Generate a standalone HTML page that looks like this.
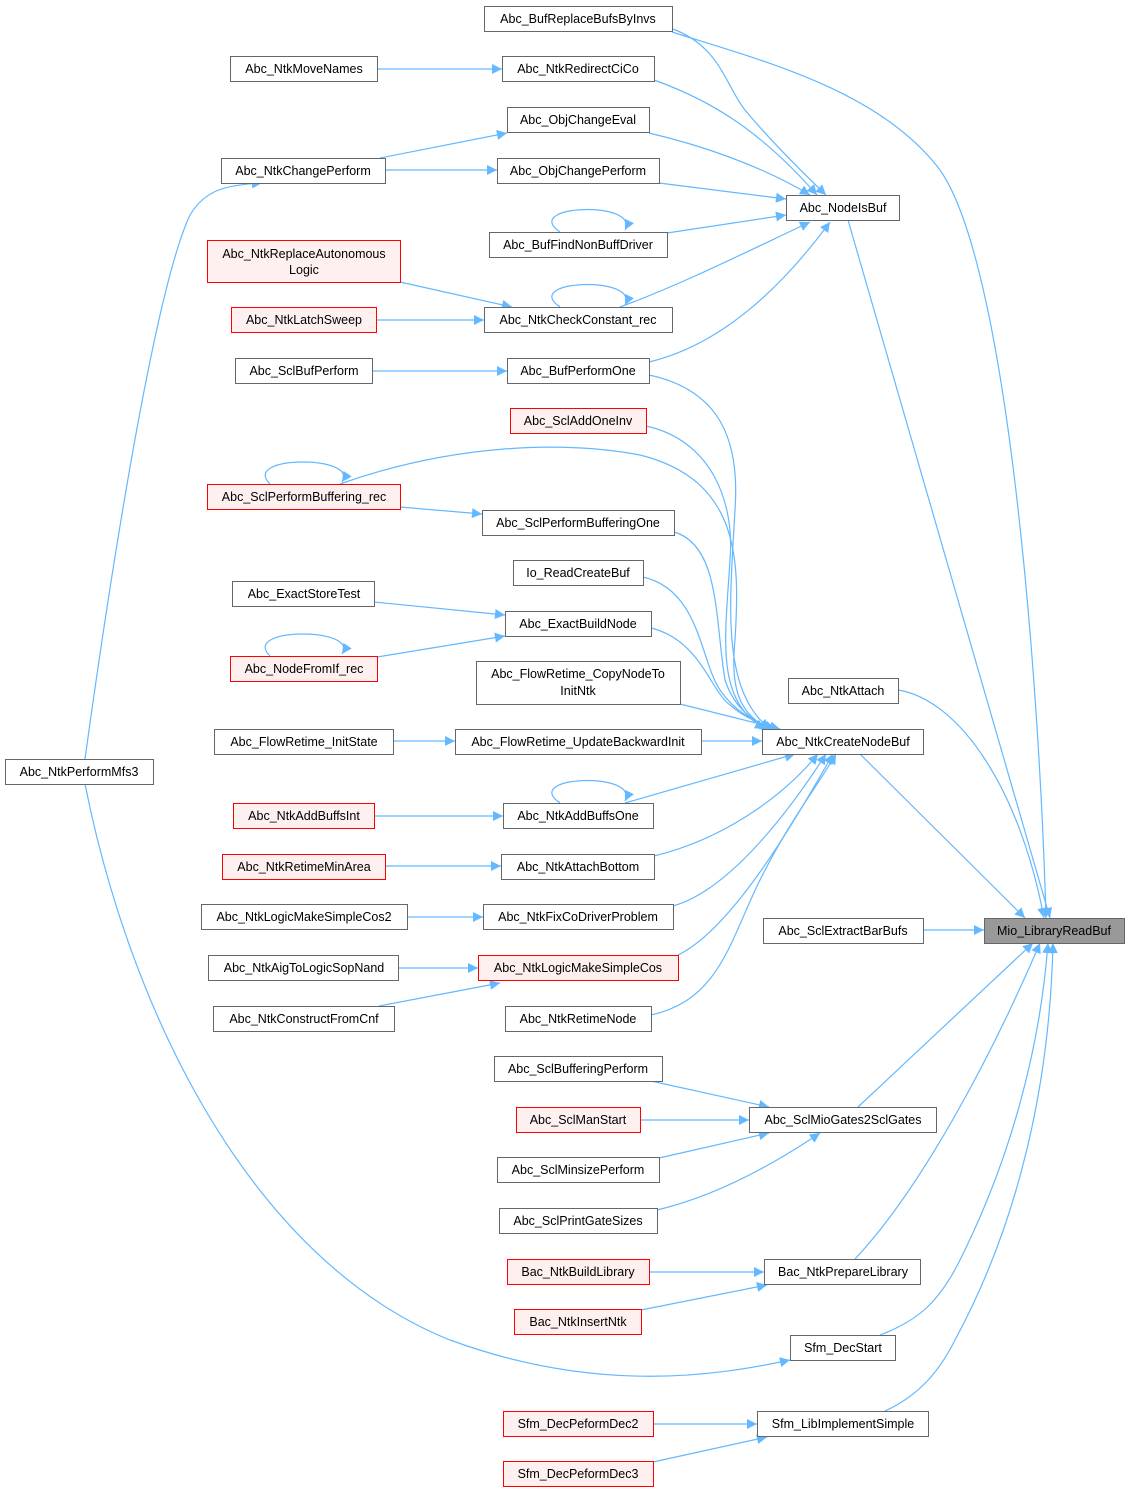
<!DOCTYPE html>
<html><head><meta charset="utf-8"><style>
html,body{margin:0;padding:0;background:#fff;}
svg{display:block}
text{font-family:"Liberation Sans",Arial,sans-serif;font-size:12.5px;fill:#000;text-anchor:middle}
.n{fill:#fff;stroke:#666;stroke-width:1}
.r{fill:#fff0f0;stroke:#f00;stroke-width:1}
.g{fill:#999;stroke:#666;stroke-width:1}
path.e{fill:none;stroke:#63b8ff;stroke-width:1.2;marker-end:url(#a)}
path.s{fill:none;stroke:#63b8ff;stroke-width:1.2;marker-end:url(#a)}
</style></head><body>
<svg width="1129" height="1493" viewBox="0 0 1129 1493" xmlns="http://www.w3.org/2000/svg">
<defs><marker id="a" viewBox="0 0 10 10" refX="10" refY="5" markerWidth="14" markerHeight="10" markerUnits="userSpaceOnUse" orient="auto"><path d="M0,0L10,5L0,10z" fill="#63b8ff"/></marker></defs>

<path class="e" d="M670,28 C720,45 725,85 745,110 C770,140 800,170 826,195"/>
<path class="e" d="M672,32 C760,60 880,90 940,170 C1010,270 1040,700 1046,918"/>
<path class="e" d="M654,80 C710,100 760,130 817,195"/>
<path class="e" d="M649,133 C700,145 760,165 810,195"/>
<path class="e" d="M659,183 L786,199"/>
<path class="e" d="M667,233 L786,215"/>
<path class="e" d="M620,307 C680,285 740,255 810,222"/>
<path class="e" d="M649,362 C720,345 780,290 830,222"/>
<path class="e" d="M848,220 L1050,918"/>
<path class="e" d="M377,69 L502,69"/>
<path class="e" d="M380,158 L507,133"/>
<path class="e" d="M385,170 L497,170"/>
<path class="e" d="M85,759 C100,650 150,300 190,215 C205,190 225,185 262,183"/>
<path class="e" d="M85,784 C130,1010 250,1260 450,1340 C600,1395 720,1375 790,1360"/>
<path class="e" d="M400,282 L512,307"/>
<path class="e" d="M376,320 L484,320"/>
<path class="e" d="M372,371 L507,371"/>
<path class="s" d="M560,232 C520,205 640,200 625,230"/>
<path class="s" d="M560,307 C520,280 640,275 625,305"/>
<path class="s" d="M270,484 C240,455 360,455 342,482"/>
<path class="s" d="M270,656 C240,627 360,627 342,654"/>
<path class="s" d="M560,803 C520,776 640,771 625,801"/>
<path class="e" d="M649,375 C720,390 740,440 735,510 C730,600 720,690 770,729"/>
<path class="e" d="M646,426 C710,440 735,500 730,560 C725,640 715,700 765,729"/>
<path class="e" d="M340,484 C450,445 560,440 640,455 C740,480 740,560 735,640 C730,690 740,715 770,729"/>
<path class="e" d="M400,507 L482,514"/>
<path class="e" d="M674,532 C720,545 715,620 725,680 C735,710 755,722 772,729"/>
<path class="e" d="M643,577 C700,590 700,660 720,690 C735,712 755,722 775,729"/>
<path class="e" d="M374,602 L505,615"/>
<path class="e" d="M377,657 L505,636"/>
<path class="e" d="M651,628 C700,640 710,690 730,705 C745,718 760,724 780,729"/>
<path class="e" d="M680,704 L780,729"/>
<path class="e" d="M393,741 L455,741"/>
<path class="e" d="M701,741 L762,741"/>
<path class="e" d="M374,816 L503,816"/>
<path class="e" d="M625,803 L795,754"/>
<path class="e" d="M385,866 L501,866"/>
<path class="e" d="M654,856 C720,840 780,800 818,754"/>
<path class="e" d="M407,917 L483,917"/>
<path class="e" d="M673,906 C730,890 790,810 826,754"/>
<path class="e" d="M398,968 L478,968"/>
<path class="e" d="M379,1006 L500,983"/>
<path class="e" d="M678,955 C730,930 790,830 833,754"/>
<path class="e" d="M651,1015 C720,1000 730,940 760,880 C790,820 815,790 836,754"/>
<path class="e" d="M860,754 L1025,918"/>
<path class="e" d="M898,690 C960,700 1020,790 1044,918"/>
<path class="e" d="M923,930 L984,930"/>
<path class="e" d="M651,1081 L769,1107"/>
<path class="e" d="M640,1120 L749,1120"/>
<path class="e" d="M659,1158 L769,1133"/>
<path class="e" d="M657,1210 C720,1195 780,1160 820,1133"/>
<path class="e" d="M858,1107 L1033,943"/>
<path class="e" d="M649,1272 L764,1272"/>
<path class="e" d="M641,1310 L767,1285"/>
<path class="e" d="M855,1259 C920,1190 990,1060 1040,943"/>
<path class="e" d="M880,1335 C920,1320 940,1300 960,1260 C1010,1160 1040,1050 1048,943"/>
<path class="e" d="M653,1424 L757,1424"/>
<path class="e" d="M653,1462 L767,1437"/>
<path class="e" d="M885,1411 C920,1395 940,1370 955,1340 C1020,1220 1050,1080 1053,943"/>

<g>
<rect class="g" x="984.5" y="918.5" width="140" height="25"/><text x="1054" y="935">Mio_LibraryReadBuf</text>
<rect class="n" x="786.5" y="195.5" width="113" height="25"/><text x="843" y="212">Abc_NodeIsBuf</text>
<rect class="n" x="788.5" y="678.5" width="110" height="25"/><text x="843" y="695">Abc_NtkAttach</text>
<rect class="n" x="762.5" y="729.5" width="161" height="25"/><text x="843" y="746">Abc_NtkCreateNodeBuf</text>
<rect class="n" x="763.5" y="918.5" width="160" height="25"/><text x="843" y="935">Abc_SclExtractBarBufs</text>
<rect class="n" x="749.5" y="1107.5" width="187" height="25"/><text x="843" y="1124">Abc_SclMioGates2SclGates</text>
<rect class="n" x="764.5" y="1259.5" width="156" height="25"/><text x="843" y="1276">Bac_NtkPrepareLibrary</text>
<rect class="n" x="790.5" y="1335.5" width="105" height="25"/><text x="843" y="1352">Sfm_DecStart</text>
<rect class="n" x="757.5" y="1411.5" width="171" height="25"/><text x="843" y="1428">Sfm_LibImplementSimple</text>

<rect class="n" x="484.5" y="6.5" width="188" height="25"/><text x="578" y="23">Abc_BufReplaceBufsByInvs</text>
<rect class="n" x="502.5" y="56.5" width="152" height="25"/><text x="578" y="73">Abc_NtkRedirectCiCo</text>
<rect class="n" x="507.5" y="107.5" width="142" height="25"/><text x="578" y="124">Abc_ObjChangeEval</text>
<rect class="n" x="497.5" y="158.5" width="162" height="25"/><text x="578" y="175">Abc_ObjChangePerform</text>
<rect class="n" x="489.5" y="232.5" width="178" height="25"/><text x="578" y="249">Abc_BufFindNonBuffDriver</text>
<rect class="n" x="484.5" y="307.5" width="188" height="25"/><text x="578" y="324">Abc_NtkCheckConstant_rec</text>
<rect class="n" x="507.5" y="358.5" width="142" height="25"/><text x="578" y="375">Abc_BufPerformOne</text>
<rect class="r" x="510.5" y="408.5" width="136" height="25"/><text x="578" y="425">Abc_SclAddOneInv</text>
<rect class="n" x="482.5" y="510.5" width="192" height="25"/><text x="578" y="527">Abc_SclPerformBufferingOne</text>
<rect class="n" x="513.5" y="560.5" width="130" height="25"/><text x="578" y="577">Io_ReadCreateBuf</text>
<rect class="n" x="505.5" y="611.5" width="146" height="25"/><text x="578" y="628">Abc_ExactBuildNode</text>
<rect class="n" x="476.5" y="661.5" width="204" height="43"/><text x="578" y="678">Abc_FlowRetime_CopyNodeTo</text><text x="578" y="695">InitNtk</text>
<rect class="n" x="455.5" y="729.5" width="246" height="25"/><text x="578" y="746">Abc_FlowRetime_UpdateBackwardInit</text>
<rect class="n" x="503.5" y="803.5" width="150" height="25"/><text x="578" y="820">Abc_NtkAddBuffsOne</text>
<rect class="n" x="501.5" y="854.5" width="153" height="25"/><text x="578" y="871">Abc_NtkAttachBottom</text>
<rect class="n" x="483.5" y="904.5" width="190" height="25"/><text x="578" y="921">Abc_NtkFixCoDriverProblem</text>
<rect class="r" x="478.5" y="955.5" width="200" height="25"/><text x="578" y="972">Abc_NtkLogicMakeSimpleCos</text>
<rect class="n" x="505.5" y="1006.5" width="146" height="25"/><text x="578" y="1023">Abc_NtkRetimeNode</text>
<rect class="n" x="494.5" y="1056.5" width="168" height="25"/><text x="578" y="1073">Abc_SclBufferingPerform</text>
<rect class="r" x="516.5" y="1107.5" width="124" height="25"/><text x="578" y="1124">Abc_SclManStart</text>
<rect class="n" x="497.5" y="1157.5" width="162" height="25"/><text x="578" y="1174">Abc_SclMinsizePerform</text>
<rect class="n" x="499.5" y="1208.5" width="158" height="25"/><text x="578" y="1225">Abc_SclPrintGateSizes</text>
<rect class="r" x="507.5" y="1259.5" width="142" height="25"/><text x="578" y="1276">Bac_NtkBuildLibrary</text>
<rect class="r" x="514.5" y="1309.5" width="127" height="25"/><text x="578" y="1326">Bac_NtkInsertNtk</text>
<rect class="r" x="503.5" y="1411.5" width="150" height="25"/><text x="578" y="1428">Sfm_DecPeformDec2</text>
<rect class="r" x="503.5" y="1461.5" width="150" height="25"/><text x="578" y="1478">Sfm_DecPeformDec3</text>

<rect class="n" x="230.5" y="56.5" width="147" height="25"/><text x="304" y="73">Abc_NtkMoveNames</text>
<rect class="n" x="221.5" y="158.5" width="164" height="25"/><text x="303" y="175">Abc_NtkChangePerform</text>
<rect class="r" x="207.5" y="240.5" width="193" height="42"/><text x="304" y="258">Abc_NtkReplaceAutonomous</text><text x="304" y="274">Logic</text>
<rect class="r" x="231.5" y="307.5" width="145" height="25"/><text x="304" y="324">Abc_NtkLatchSweep</text>
<rect class="n" x="235.5" y="358.5" width="137" height="25"/><text x="304" y="375">Abc_SclBufPerform</text>
<rect class="r" x="207.5" y="484.5" width="193" height="25"/><text x="304" y="501">Abc_SclPerformBuffering_rec</text>
<rect class="n" x="232.5" y="581.5" width="142" height="25"/><text x="304" y="598">Abc_ExactStoreTest</text>
<rect class="r" x="230.5" y="656.5" width="147" height="25"/><text x="304" y="673">Abc_NodeFromIf_rec</text>
<rect class="n" x="214.5" y="729.5" width="179" height="25"/><text x="304" y="746">Abc_FlowRetime_InitState</text>
<rect class="r" x="233.5" y="803.5" width="141" height="25"/><text x="304" y="820">Abc_NtkAddBuffsInt</text>
<rect class="r" x="222.5" y="854.5" width="163" height="25"/><text x="304" y="871">Abc_NtkRetimeMinArea</text>
<rect class="n" x="201.5" y="904.5" width="206" height="25"/><text x="304" y="921">Abc_NtkLogicMakeSimpleCos2</text>
<rect class="n" x="208.5" y="955.5" width="190" height="25"/><text x="304" y="972">Abc_NtkAigToLogicSopNand</text>
<rect class="n" x="213.5" y="1006.5" width="181" height="25"/><text x="304" y="1023">Abc_NtkConstructFromCnf</text>

<rect class="n" x="5.5" y="759.5" width="148" height="25"/><text x="79" y="776">Abc_NtkPerformMfs3</text>
</g>
</svg>
</body></html>
